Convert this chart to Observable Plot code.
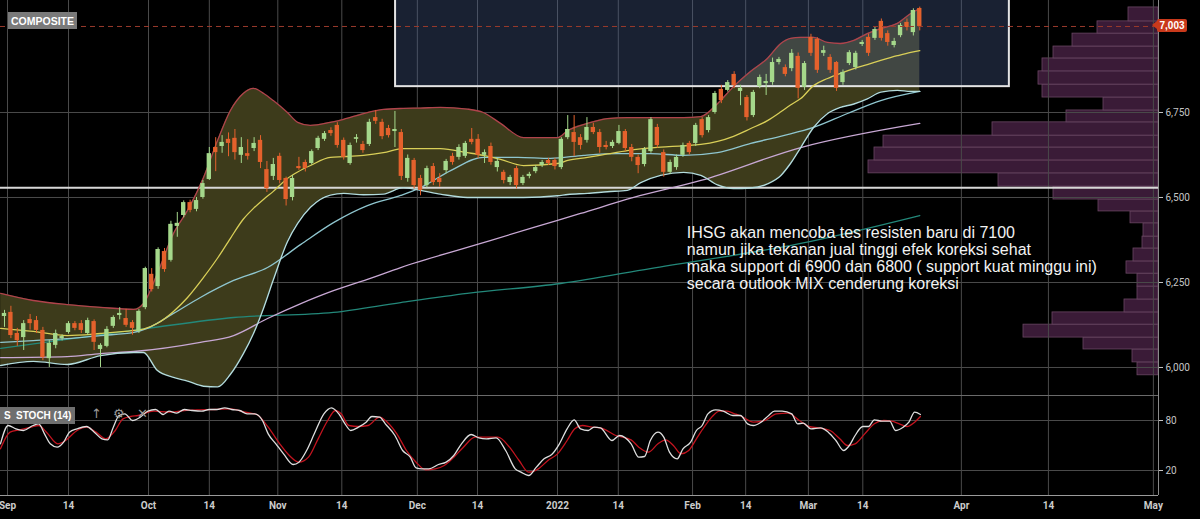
<!DOCTYPE html>
<html><head><meta charset="utf-8">
<script src="https://cdn.jsdelivr.net/npm/d3@7"></script>
<script src="https://cdn.jsdelivr.net/npm/@observablehq/plot@0.6"></script>
<style>
html,body{margin:0;padding:0;background:#000;}
#chart{position:relative;width:1200px;height:519px;background:#000;overflow:hidden;font-family:"Liberation Sans",Arial,sans-serif;}
#chart svg{position:absolute;left:0;}
.tag{position:absolute;color:#fff;font:bold 10.5px "Liberation Sans",Arial,sans-serif;display:flex;align-items:center;justify-content:center;}
.icon{position:absolute;color:#9a9a9a;font:13px "DejaVu Sans",sans-serif;}
.last{position:absolute;left:1157px;width:30px;height:13px;background:#c9391b;color:#fff;font:bold 10px "Liberation Sans",Arial,sans-serif;display:flex;align-items:center;justify-content:center;border-radius:2px;}
.last:before{content:"";position:absolute;left:-5px;top:2px;border-top:4.5px solid transparent;border-bottom:4.5px solid transparent;border-right:5px solid #c9391b;}
</style></head><body><div id="chart"></div>
<script>
// ---------- data ----------
const candleOpen = [6150,6162,6100,6088,6141,6138,6109,6026,6065,6085,
 6103,6129,6129,6100,6135,6053,6062,6121,6153,6144,
 6132,6106,6176,6274,6238,6341,6315,6415,6447,6485,
 6465,6500,6553,6647,6650,6671,6674,6624,6629,6644,
 6668,6582,6562,6621,6556,6500,6591,6603,6600,6644,
 6671,6697,6712,6668,6600,6671,6656,6656,6735,6721,
 6703,6694,6691,6556,6609,6556,6535,6591,6556,6579,
 6621,6618,6621,6671,6671,6624,6650,6588,6574,6544,
 6585,6541,6562,6576,6594,6609,6609,6588,6676,6691,
 6676,6668,6706,6691,6653,6650,6659,6694,6647,6618,
 6597,6635,6706,6632,6574,6588,6624,6659,6659,6729,
 6697,6750,6818,6815,6862,6812,6794,6741,6826,6835,
 6838,6897,6882,6879,6915,6824,6971,6965,6924,6912,
 6897,6838,6894,6882,6950,6971,6968,7018,6982,6947,
 6976,7015,6985,7056];
const candleClose = [6159,6094,6079,6129,6129,6109,6029,6071,6100,6091,
 6129,6115,6109,6138,6074,6065,6112,6147,6159,6124,
 6115,6165,6291,6229,6347,6288,6421,6424,6485,6462,
 6491,6541,6629,6632,6662,6659,6632,6647,6621,6659,
 6603,6526,6597,6550,6494,6556,6585,6585,6635,6674,
 6688,6688,6653,6618,6653,6676,6638,6721,6724,6679,
 6682,6700,6562,6615,6535,6521,6585,6544,6544,6606,
 6603,6647,6659,6662,6624,6632,6603,6606,6550,6559,
 6535,6559,6568,6588,6603,6600,6591,6671,6700,6662,
 6653,6706,6691,6647,6647,6662,6694,6644,6618,6594,
 6641,6729,6653,6574,6603,6618,6653,6632,6712,6682,
 6735,6806,6785,6838,6829,6821,6735,6809,6853,6841,
 6897,6906,6862,6924,6821,6894,6924,6874,6932,6874,
 6821,6868,6926,6924,6956,6924,6994,6968,6956,6959,
 7006,7000,7050,7003];
const candleHigh = [6168,6180,6115,6138,6156,6150,6118,6080,6110,6096,
 6135,6135,6138,6145,6140,6070,6120,6152,6176,6171,
 6138,6170,6295,6291,6352,6350,6430,6456,6490,6492,
 6500,6550,6647,6676,6682,6690,6700,6676,6670,6676,
 6682,6606,6615,6630,6560,6565,6618,6610,6640,6680,
 6694,6705,6720,6675,6660,6685,6665,6730,6756,6730,
 6712,6753,6700,6625,6615,6565,6592,6600,6570,6612,
 6630,6655,6665,6703,6685,6640,6660,6615,6580,6565,
 6592,6565,6574,6594,6609,6615,6615,6676,6741,6741,
 6685,6735,6718,6700,6665,6668,6712,6700,6656,6625,
 6647,6735,6715,6640,6610,6625,6660,6665,6718,6735,
 6741,6812,6830,6844,6870,6830,6800,6815,6860,6862,
 6910,6912,6890,6935,6925,6900,6980,6970,6945,6920,
 6900,6875,6932,6930,6962,6980,7000,7025,6990,6968,
 7012,7025,7055,7060];
const candleLow = [6118,6085,6062,6050,6110,6100,6020,6000,6055,6078,
 6098,6108,6100,6095,6050,6000,6058,6115,6140,6118,
 6095,6100,6170,6222,6230,6280,6310,6383,6440,6455,
 6458,6495,6550,6576,6630,6620,6610,6600,6610,6635,
 6585,6515,6550,6540,6475,6490,6580,6575,6595,6638,
 6665,6680,6645,6610,6595,6660,6630,6650,6715,6670,
 6675,6647,6550,6545,6525,6505,6528,6535,6530,6570,
 6595,6610,6615,6655,6615,6600,6595,6575,6540,6535,
 6525,6535,6555,6570,6588,6594,6581,6582,6670,6620,
 6640,6660,6685,6630,6640,6644,6655,6635,6605,6570,
 6590,6630,6645,6560,6568,6580,6618,6625,6650,6675,
 6690,6745,6776,6810,6820,6770,6725,6735,6820,6800,
 6830,6890,6855,6870,6790,6815,6915,6865,6915,6865,
 6812,6830,6888,6875,6944,6915,6962,6960,6945,6940,
 6970,6990,6975,6990];

// Bollinger band (20,2) at sample bars
const bandIdx = [-0.6,4.5,9.8,15,20.2,21.7,23.9,26.4,28.6,31.1,33.3,35.3,37.3,38.9,40.5,42.0,44.2,45.8,47.8,50.9,53,56.1,59.2,62.3,65,68.1,72.3,74.8,77.5,81.1,86.4,88,91.1,94.2,97.3,99.4,102.5,106.1,108.8,111.4,113.9,116.6,119.2,121.3,122.8,124.4,126.4,128.6,130.6,132.7,134.8,136.9,139.5,141.6,143];
const bbUpper = [6218,6197,6185,6177,6171,6188,6277,6394,6462,6559,6668,6756,6806,6821,6806,6785,6750,6721,6712,6721,6730,6747,6759,6762,6763,6765,6760,6750,6718,6676,6676,6697,6718,6732,6735,6735,6735,6735,6738,6776,6826,6871,6909,6953,6968,6971,6971,6956,6953,6962,6982,6997,7012,7041,7056];
const bbMiddle = [6115,6106,6094,6100,6109,6113,6130,6165,6206,6265,6322,6380,6436,6468,6495,6518,6556,6575,6594,6618,6620,6624,6632,6644,6644,6644,6632,6624,6612,6594,6600,6609,6618,6628,6638,6643,6648,6652,6656,6665,6680,6703,6726,6752,6772,6791,6829,6850,6865,6879,6891,6903,6917,6927,6932];
const bbLower = [6006,6018,6009,6035,6044,6044,5991,5971,5960,5945,5943,5980,6040,6100,6176,6258,6370,6424,6471,6507,6512,6508,6510,6529,6521,6510,6500,6500,6500,6500,6505,6509,6512,6517,6521,6544,6565,6574,6565,6537,6526,6528,6540,6565,6600,6647,6706,6747,6765,6775,6790,6810,6815,6812,6812];

// moving averages
const ma50Idx = [-0.6,4.5,9.8,15,20.2,22.3,26.4,30.6,35.8,41.1,46.3,51.4,56.7,61.9,65.0,69.7,74.8,80.2,85.3,90.5,95.8,100.9,106.1,111.4,116.6,121.7,126.4,131.7,136.9,143];
const ma50Val = [6074,6079,6085,6094,6103,6115,6159,6206,6256,6294,6362,6426,6476,6506,6529,6579,6618,6618,6615,6624,6629,6629,6624,6632,6659,6682,6706,6747,6785,6812];
const ma100Idx = [-0.6,9.8,15,20.2,30.6,35.8,41.1,46.3,51.4,56.7,61.9,72.3,82.7,90,98.3,108.8,124.4,143];
const ma100Val = [6029,6032,6041,6047,6074,6094,6144,6188,6226,6259,6294,6353,6412,6453,6500,6550,6647,6718];
const ma200Idx = [-0.6,22.3,35.8,51.4,61.9,72.3,86.9,100.9,124.4,143];
const ma200Val = [6056,6115,6147,6162,6191,6218,6247,6291,6365,6447];

// stochastic (14) %K and %D
const stochKIdx = [-0.63,0.57,1.77,2.96,4.46,5.35,6.25,7.15,8.22,9.24,10.14,11.33,12.83,14.03,15.22,16.12,17.0,17.9,18.8,20.0,21.2,22.4,23.6,24.8,25.7,26.9,28.1,29.3,30.8,32.0,33.2,34.4,35.5,36.75,37.9,39.1,40.3,41.2,42.4,43.6,45.1,46.0,47.2,48.4,49.9,51.1,52.3,53.2,54.1,55.3,56.5,57.4,58.6,59.5,61.0,62.2,63.4,64.3,65.2,66.3,67.8,69.0,70.2,71.4,72.9,74.1,75.3,76.8,78.3,79.8,80.7,81.9,83.1,84.3,85.5,86.7,87.9,89.0,90.0,91.2,92.1,93.1,94.9,96.1,97.9,99.1,100.0,100.9,102.1,103.0,103.9,105.1,106.0,107.2,108.1,109.0,109.9,111.1,112.3,113.8,115.0,116.1,117.0,118.2,119.4,120.3,121.5,123.0,123.9,124.8,126.0,127.5,128.7,129.9,131.1,132.0,132.9,134.1,135.0,135.9,137.1,138.3,139.2,140.4,141.3,142.2,143.1];
const stochKVal = [52,74,70,68,74,76,64,52,48,54,66,70,72.8,66,58,56.8,72,86,88,80,84,91.2,93.2,87.2,91.2,88.8,93.2,92,91.2,93.2,93.2,95.2,93.2,92,88,88,80,64,52,40,27.2,30,44,64,88,95.2,87.2,76,68,72,78,84.8,84,76,62,44,36,23.2,22,22,27.2,30,38,52,63.2,59.2,58,59.2,44,22,18,14,24,34,39.2,52,70,80.8,70,68,72,71.2,56,62,52,36,36.8,56,66,60,42,34,46,54,68,74,88,92.8,91.2,86,86,76,74,78,86,91.2,91.2,88,76,76.8,70,71.2,66,56,44,50,62,72.8,72.8,80.8,79.2,79.2,68,72,78,90,87.2];
const stochDIdx = [-0.63,0.87,2.36,4.16,5.35,6.55,8.34,9.54,11.33,12.83,14.3,15.8,17.3,18.5,19.7,20.9,23.3,25.7,28.1,30.5,32.9,35.3,37.6,39.4,41.2,43.0,44.5,46.0,47.5,49.0,50.5,51.7,52.6,53.8,55.3,56.8,58.6,59.8,61.3,62.8,64.3,65.8,67.3,68.7,70.2,71.7,73.5,75.3,77.1,78.9,80.4,81.9,83.4,84.9,86.4,87.9,89.1,90.3,91.8,93.1,95.5,97.9,99.1,100.6,102.1,103.3,104.5,105.7,106.9,108.1,109.3,110.5,111.7,112.9,114.1,115.2,117.0,118.8,120.6,122.4,124.2,125.7,127.2,129.0,130.5,131.7,132.9,134.4,135.9,137.4,138.6,139.8,141.0,142.2,143.1];
const stochDVal = [46,66,68.8,72,74,66,52,56,68,72,66,58,68,82,84.8,86,91.2,90,92,92.8,93.2,94,90,87.2,72,52,38,30,36,58,80,92,88,74,72.8,74,84,78,64,44,30,20.8,22,26,36,48,60,60,60,48,32,18,22,32,40,56,70,74,72,71.2,62,56.8,48,42,52,56.8,50,40,44,58,72,84,91.2,91.2,88,84.8,78,80,88,88.8,80,72.8,71.2,68,58,50,52,64,76,80,79.2,76,72.8,78,84.8];

// volume-by-price profile (bins bottom to top)
const profileEdges = [5977,6015,6053,6088,6126,6162,6200,6238,6276,6312,6350,6385,6424,6459,6494,6532,6571,6609,6647,6682,6721,6756,6794,6832,6871,6909,6944,6982,7018,7059];
const profileVolume = [21,26,75,135,106,34,21,21,32,25,16,15,28,60,105,160,290,284,275,166,92,55,116,120,116,105,86,61,30];

// axes
const priceTicks = [6000,6250,6500,6750];
const stochTicks = [20,80];
const dateTickIdx = [0.47,10,22.5,32.0,42.7,52.7,64.5,73.9,86.4,95.9,107.5,115.8,125.6,134.1,149.5,163.1,179.5];
const dateTickLabels = ["Sep","14","Oct","14","Nov","14","Dec","14","2022","14","Feb","14","Mar","14","Apr","14","May"];

// annotations
const supportLevel = 6529;
const lastPrice = 7003;
const highlightZone = {i1: 61.1, i2: 157.0, p1: 6826, p2: 7140};
const noteAt = {i: 106.6, p: 6415};
const noteLines = ["IHSG akan mencoba tes resisten baru di 7100",
  "namun jika tekanan jual tinggi efek koreksi sehat",
  "maka support di 6900 dan 6800 ( support kuat minggu ini)",
  "secara outlook MIX cenderung koreksi"];

// ---------- build ----------
const X_DOMAIN = [-0.625, 180.3];
const Y_DOMAIN = [5917.6, 7079.4];
const GRID = "#4a4a4a";
const FONT = "Roboto, 'Liberation Sans', Arial, sans-serif";

const candles = candleOpen.map((o, i) => ({i, open: o, close: candleClose[i], high: candleHigh[i], low: candleLow[i]}));
const candleColor = d => d.close >= d.open ? "#a5d88b" : "#e4612c";
const band = bandIdx.map((i, k) => ({i, hi: bbUpper[k], mid: bbMiddle[k], lo: bbLower[k]}));
const ma50 = ma50Idx.map((i, k) => ({i, v: ma50Val[k]}));
const ma100 = ma100Idx.map((i, k) => ({i, v: ma100Val[k]}));
const ma200 = ma200Idx.map((i, k) => ({i, v: ma200Val[k]}));
const stochK = stochKIdx.map((i, k) => ({i, v: stochKVal[k]}));
const stochD = stochDIdx.map((i, k) => ({i, v: stochDVal[k]}));
const profile = profileVolume.map((v, k) => ({v, lo: profileEdges[k], hi: profileEdges[k + 1]}));
const labelMap = new Map(dateTickIdx.map((d, k) => [d, dateTickLabels[k]]));

const baseStyle = {background: "transparent", color: "#c4c4c4", fontFamily: FONT, fontSize: "10px", overflow: "visible"};

const volumePlot = Plot.plot({
  width: 1200, height: 395, marginLeft: 0, marginRight: 42, marginTop: 0, marginBottom: 0,
  style: baseStyle,
  x: {domain: [0, 300], range: [1158, 858], axis: null},
  y: {domain: Y_DOMAIN, axis: null},
  marks: [
    Plot.rect(profile, {x1: 0, x2: "v", y1: "lo", y2: "hi", fill: "#3a1b37", stroke: "#6a4763", strokeWidth: 0.8})
  ]
});

const mainPlot = Plot.plot({
  width: 1200, height: 395, marginLeft: 0, marginRight: 42, marginTop: 0, marginBottom: 0,
  style: baseStyle,
  x: {domain: X_DOMAIN, axis: null},
  y: {domain: Y_DOMAIN, axis: null},
  marks: [
    Plot.gridY(priceTicks, {stroke: GRID, strokeOpacity: 1}),
    Plot.gridX(dateTickIdx, {stroke: GRID, strokeOpacity: 1}),
    Plot.areaY(band, {x: "i", y1: "lo", y2: "hi", fill: "#3d3b1b", curve: "monotone-x"}),
    Plot.rect([highlightZone], {x1: "i1", x2: "i2", y1: "p1", y2: "p2", fill: "#4a6094", fillOpacity: 0.34, stroke: "#e4e4e4", strokeWidth: 2, clip: true}),
    Plot.ruleY([supportLevel], {stroke: "#d8d8d8", strokeWidth: 2}),
    Plot.line(ma200, {x: "i", y: "v", stroke: "#23887a", strokeWidth: 1.3, curve: "monotone-x"}),
    Plot.line(ma100, {x: "i", y: "v", stroke: "#c8a8d4", strokeWidth: 1.3, curve: "monotone-x"}),
    Plot.line(ma50, {x: "i", y: "v", stroke: "#8fc6cf", strokeWidth: 1.3, curve: "monotone-x"}),
    Plot.line(band, {x: "i", y: "hi", stroke: "#b0434c", strokeWidth: 1.3, curve: "monotone-x"}),
    Plot.line(band, {x: "i", y: "lo", stroke: "#b4dcdc", strokeWidth: 1.4, curve: "monotone-x"}),
    Plot.line(band, {x: "i", y: "mid", stroke: "#d9cf58", strokeWidth: 1.3, curve: "monotone-x"}),
    Plot.ruleX(candles, {x: "i", y1: "low", y2: "high", stroke: candleColor, strokeWidth: 1}),
    Plot.rect(candles, {x1: d => d.i - 0.34, x2: d => d.i + 0.34, y1: "open", y2: "close", fill: candleColor}),
    Plot.ruleY([lastPrice], {stroke: "#9a3a2c", strokeDasharray: "5,4", strokeWidth: 1}),
    Plot.ruleX([X_DOMAIN[1]], {stroke: "#8a8a8a"}),
    Plot.axisY(priceTicks, {anchor: "right", label: null, tickSize: 4, tickPadding: 3, tickFormat: d3.format(","), color: "#c4c4c4", fontSize: 10}),
    Plot.text([noteLines.join("\n")], {x: noteAt.i, y: noteAt.p, text: d => d, textAnchor: "start", lineAnchor: "top",
      fontSize: 16, lineHeight: 1.06, fill: "#f2f2f2", fontFamily: "'Liberation Sans', Arial, sans-serif"})
  ]
});

const stochPlot = Plot.plot({
  width: 1200, height: 124, marginLeft: 0, marginRight: 42, marginTop: 0, marginBottom: 24,
  style: baseStyle,
  x: {domain: X_DOMAIN, axis: null},
  y: {domain: [-10, 110], axis: null},
  marks: [
    Plot.gridY(stochTicks, {stroke: GRID, strokeOpacity: 1}),
    Plot.gridX(dateTickIdx, {stroke: GRID, strokeOpacity: 1}),
    Plot.ruleY([110], {stroke: "#6a6a6a"}),
    Plot.ruleY([-10], {stroke: "#9a9a9a"}),
    Plot.ruleX([X_DOMAIN[1]], {stroke: "#8a8a8a"}),
    Plot.line(stochD, {x: "i", y: "v", stroke: "#c3141f", strokeWidth: 1.3, curve: "monotone-x"}),
    Plot.line(stochK, {x: "i", y: "v", stroke: "#dedede", strokeWidth: 1.3, curve: "monotone-x"}),
    Plot.axisY(stochTicks, {anchor: "right", label: null, tickSize: 4, tickPadding: 3, color: "#c4c4c4", fontSize: 10}),
    Plot.axisX(dateTickIdx, {anchor: "bottom", label: null, tickSize: 0, tickPadding: 6, tickFormat: d => labelMap.get(d), color: "#cccccc", fontSize: 10, fontWeight: "bold"})
  ]
});

const chart = document.getElementById("chart");
volumePlot.style.top = "0px";
mainPlot.style.top = "0px";
stochPlot.style.top = "395px";
chart.appendChild(volumePlot);
chart.appendChild(mainPlot);
chart.appendChild(stochPlot);

// overlays
const comp = document.createElement("div");
comp.className = "tag";
comp.style.cssText = "left:8px;top:12px;width:69px;height:17px;background:#7a7a7a;";
comp.textContent = "COMPOSITE";
chart.appendChild(comp);

const last = document.createElement("div");
last.className = "last";
last.style.top = (mainPlot.scale("y").apply(lastPrice) - 6.5) + "px";
last.textContent = d3.format(",")(lastPrice);
chart.appendChild(last);

const st = document.createElement("div");
st.className = "tag";
st.style.cssText = "left:0px;top:407px;width:75px;height:17px;background:#6f6f6f;justify-content:flex-start;font-weight:bold;font-size:10px;";
st.innerHTML = "<span style='padding-left:4px;width:11px'>S</span><span style='padding-left:1px'>STOCH (14)</span>";
chart.appendChild(st);
[["↑", 91], ["⚙", 113], ["✕", 137]].forEach(([c, x]) => {
  const d = document.createElement("div");
  d.className = "icon";
  d.style.left = x + "px";
  d.style.top = "406px";
  d.textContent = c;
  chart.appendChild(d);
});
</script></body></html>
